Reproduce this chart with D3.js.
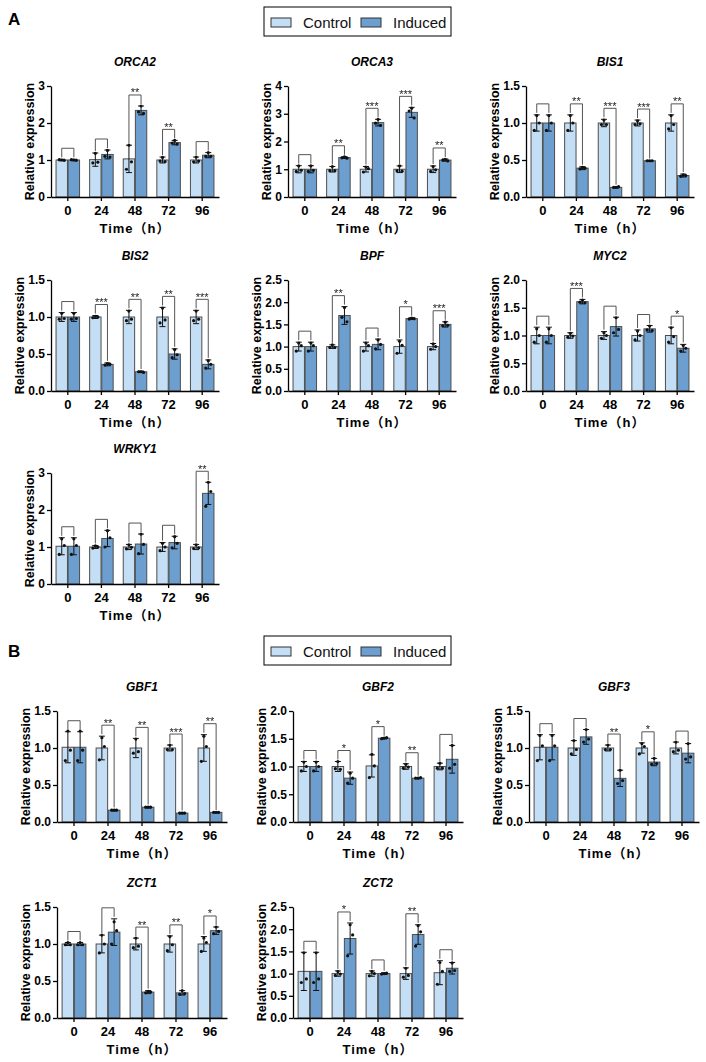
<!DOCTYPE html>
<html>
<head>
<meta charset="utf-8">
<script src="https://cdn.jsdelivr.net/npm/d3@7"></script>
<style>
body { margin: 0; background: #fff; }
svg { display: block; font-family: "Liberation Sans", Arial, sans-serif; }
</style>
</head>
<body>
<svg id="fig" width="706" height="1062"></svg>
<script>
const times = ['0', '24', '48', '72', '96'];
const seriesNames = ['Control', 'Induced'];

const ticks3 = [0, 1, 2, 3];
const ticks4 = [0, 1, 2, 3, 4];
const ticks15 = [0, 0.5, 1.0, 1.5];
const ticks20 = [0, 0.5, 1.0, 1.5, 2.0];
const ticks25 = [0, 0.5, 1.0, 1.5, 2.0, 2.5];

// ORCA2
const orca2Ctrl = [1.0, 1.01, 1.03, 1.0, 1.0];
const orca2CtrlSd = [0.02, 0.18, 0.37, 0.08, 0.08];
const orca2CtrlPts = [[1.0, 1.01, 0.99], [1.18, 0.92, 0.94], [1.4, 0.75, 0.95], [1.07, 0.97, 0.96], [1.08, 0.95, 0.97]];
const orca2Ind = [1.0, 1.15, 2.34, 1.47, 1.13];
const orca2IndSd = [0.02, 0.12, 0.12, 0.06, 0.07];
const orca2IndPts = [[1.0, 1.01, 0.99], [1.26, 1.1, 1.08], [2.46, 2.3, 2.26], [1.53, 1.46, 1.43], [1.2, 1.1, 1.1]];
const orca2Sig = ['', '', '**', '**', ''];

// ORCA3
const orca3Ctrl = [1, 1, 1, 1, 1];
const orca3CtrlSd = [0.13, 0.1, 0.1, 0.12, 0.12];
const orca3CtrlPts = [[1.12, 0.92, 0.96], [1.1, 0.95, 0.95], [1.08, 0.9, 1.02], [1.12, 0.95, 0.93], [1.1, 0.92, 0.98]];
const orca3Ind = [1.0, 1.42, 2.68, 3.05, 1.33];
const orca3IndSd = [0.13, 0.03, 0.12, 0.18, 0.04];
const orca3IndPts = [[1.12, 0.92, 0.96], [1.45, 1.41, 1.4], [2.8, 2.66, 2.58], [3.2, 3.1, 2.85], [1.36, 1.33, 1.3]];
const orca3Sig = ['', '**', '***', '***', '**'];

// BIS1
const bis1Ctrl = [1, 1, 1, 1, 1];
const bis1CtrlSd = [0.11, 0.11, 0.05, 0.04, 0.11];
const bis1CtrlPts = [[1.1, 0.9, 1.0], [1.1, 0.9, 1.0], [1.04, 0.98, 0.98], [1.03, 0.98, 0.99], [1.1, 0.92, 0.98]];
const bis1Ind = [1.0, 0.39, 0.13, 0.49, 0.29];
const bis1IndSd = [0.11, 0.02, 0.01, 0.005, 0.02];
const bis1IndPts = [[1.1, 0.9, 1.0], [0.4, 0.38, 0.39], [0.13, 0.13, 0.14], [0.49, 0.49, 0.49], [0.3, 0.28, 0.29]];
const bis1Sig = ['', '**', '***', '***', '**'];

// BIS2
const bis2Ctrl = [1, 1, 1, 1, 1];
const bis2CtrlSd = [0.06, 0.02, 0.09, 0.13, 0.09];
const bis2CtrlPts = [[1.05, 0.97, 0.98], [1.01, 0.99, 1.0], [1.08, 0.95, 0.97], [1.12, 0.92, 0.96], [1.08, 0.95, 0.97]];
const bis2Ind = [1.0, 0.36, 0.26, 0.5, 0.36];
const bis2IndSd = [0.06, 0.02, 0.01, 0.07, 0.06];
const bis2IndPts = [[1.05, 0.97, 0.98], [0.37, 0.35, 0.36], [0.26, 0.26, 0.25], [0.56, 0.45, 0.49], [0.41, 0.31, 0.36]];
const bis2Sig = ['', '***', '**', '**', '***'];

// BPF
const bpfCtrl = [1, 1, 1, 1, 1];
const bpfCtrlSd = [0.1, 0.04, 0.1, 0.15, 0.07];
const bpfCtrlPts = [[1.08, 0.9, 1.02], [1.04, 0.98, 0.98], [1.08, 0.9, 1.02], [1.12, 0.85, 1.03], [1.06, 0.94, 1.0]];
const bpfInd = [1.0, 1.7, 1.05, 1.63, 1.5];
const bpfIndSd = [0.1, 0.2, 0.12, 0.02, 0.06];
const bpfIndPts = [[1.08, 0.9, 1.02], [1.88, 1.66, 1.56], [1.15, 0.95, 1.05], [1.64, 1.62, 1.63], [1.55, 1.47, 1.48]];
const bpfSig = ['', '**', '', '*', '***'];

// MYC2
const myc2Ctrl = [1, 1, 1, 1, 1];
const myc2CtrlSd = [0.15, 0.05, 0.07, 0.1, 0.15];
const myc2CtrlPts = [[1.12, 0.88, 1.0], [1.04, 0.97, 0.99], [1.05, 0.95, 1.0], [1.08, 0.92, 1.0], [1.14, 0.88, 0.98]];
const myc2Ind = [1.0, 1.61, 1.16, 1.12, 0.77];
const myc2IndSd = [0.15, 0.04, 0.17, 0.06, 0.07];
const myc2IndPts = [[1.12, 0.88, 1.0], [1.64, 1.6, 1.59], [1.32, 1.05, 1.11], [1.17, 1.1, 1.09], [0.82, 0.72, 0.77]];
const myc2Sig = ['', '***', '', '', '*'];

// WRKY1
const wrky1Ctrl = [1.02, 1.0, 1.0, 1.0, 1.0];
const wrky1CtrlSd = [0.23, 0.04, 0.07, 0.12, 0.07];
const wrky1CtrlPts = [[1.22, 0.8, 1.04], [1.03, 0.97, 1.0], [1.06, 0.95, 0.99], [1.1, 0.9, 1.0], [1.06, 0.96, 0.98]];
const wrky1Ind = [1.02, 1.23, 1.08, 1.12, 2.45];
const wrky1IndSd = [0.23, 0.22, 0.27, 0.17, 0.3];
const wrky1IndPts = [[1.22, 0.8, 1.04], [1.44, 1.0, 1.25], [1.35, 0.82, 1.07], [1.28, 0.98, 1.1], [2.75, 2.1, 2.5]];
const wrky1Sig = ['', '', '', '', '**'];

// GBF1
const gbf1Ctrl = [1.01, 1.0, 1.0, 1.0, 1.0];
const gbf1CtrlSd = [0.21, 0.16, 0.13, 0.04, 0.18];
const gbf1CtrlPts = [[1.23, 0.83, 0.97], [1.14, 0.84, 1.02], [1.12, 0.93, 0.95], [1.04, 0.98, 0.98], [1.16, 0.82, 1.02]];
const gbf1Ind = [1.01, 0.16, 0.2, 0.12, 0.13];
const gbf1IndSd = [0.21, 0.01, 0.01, 0.01, 0.005];
const gbf1IndPts = [[1.23, 0.83, 0.97], [0.16, 0.16, 0.16], [0.2, 0.2, 0.2], [0.12, 0.12, 0.12], [0.13, 0.13, 0.13]];
const gbf1Sig = ['', '**', '**', '***', '**'];

// GBF2
const gbf2Ctrl = [1.0, 1.0, 1.01, 1.0, 1.0];
const gbf2CtrlSd = [0.09, 0.09, 0.2, 0.05, 0.06];
const gbf2CtrlPts = [[1.08, 0.92, 1.0], [1.09, 0.96, 0.95], [1.22, 0.8, 1.01], [1.04, 0.97, 0.99], [1.06, 0.97, 0.97]];
const gbf2Ind = [1.0, 0.79, 1.51, 0.79, 1.13];
const gbf2IndSd = [0.09, 0.11, 0.01, 0.01, 0.25];
const gbf2IndPts = [[1.08, 0.92, 1.0], [0.88, 0.7, 0.79], [1.51, 1.5, 1.52], [0.79, 0.79, 0.8], [1.38, 0.97, 1.04]];
const gbf2Sig = ['', '*', '*', '**', ''];

// GBF3
const gbf3Ctrl = [1.01, 1.0, 1.0, 1.0, 1.0];
const gbf3CtrlSd = [0.17, 0.1, 0.04, 0.07, 0.08];
const gbf3CtrlPts = [[1.17, 0.83, 1.03], [1.1, 0.92, 0.98], [1.04, 0.98, 0.98], [1.06, 0.92, 1.02], [1.08, 0.95, 0.97]];
const gbf3Ind = [1.01, 1.15, 0.59, 0.81, 0.93];
const gbf3IndSd = [0.17, 0.1, 0.11, 0.05, 0.13];
const gbf3IndPts = [[1.17, 0.83, 1.03], [1.25, 1.08, 1.12], [0.7, 0.52, 0.56], [0.86, 0.78, 0.79], [1.06, 0.85, 0.88]];
const gbf3Sig = ['', '', '**', '*', ''];

// ZCT1
const zct1Ctrl = [1, 1, 1, 1, 1];
const zct1CtrlSd = [0.02, 0.12, 0.08, 0.11, 0.1];
const zct1CtrlPts = [[1.02, 0.99, 0.99], [1.12, 0.88, 1.0], [1.08, 0.95, 0.97], [1.1, 0.91, 0.99], [1.08, 0.9, 1.02]];
const zct1Ind = [1.0, 1.16, 0.35, 0.34, 1.18];
const zct1IndSd = [0.02, 0.18, 0.02, 0.03, 0.05];
const zct1IndPts = [[1.02, 0.99, 0.99], [1.3, 1.0, 1.18], [0.36, 0.34, 0.35], [0.37, 0.32, 0.33], [1.23, 1.14, 1.17]];
const zct1Sig = ['', '', '**', '**', '*'];

// ZCT2
const zct2Ctrl = [1.05, 1.0, 1.0, 1.0, 1.02];
const zct2CtrlSd = [0.43, 0.06, 0.06, 0.13, 0.27];
const zct2CtrlPts = [[1.47, 0.8, 0.88], [1.05, 0.96, 0.99], [1.05, 0.95, 1.0], [1.12, 0.92, 0.96], [1.25, 0.76, 1.05]];
const zct2Ind = [1.05, 1.79, 1.0, 1.88, 1.12];
const zct2IndSd = [0.43, 0.35, 0.02, 0.22, 0.13];
const zct2IndPts = [[1.47, 0.8, 0.88], [2.1, 1.4, 1.87], [1.0, 0.99, 1.01], [2.08, 1.62, 1.94], [1.24, 1.05, 1.07]];
const zct2Sig = ['', '*', '', '**', ''];

const colors = { Control: '#c4dff5', Induced: '#6c9fcf' };

function gene(name, ticks, ctrl, ctrlSd, ctrlPts, ind, indSd, indPts, sig) {
    return { name, ticks, sig, series: [
        { key: 'Control', mean: ctrl, sd: ctrlSd, pts: ctrlPts },
        { key: 'Induced', mean: ind, sd: indSd, pts: indPts }
    ] };
}

const panelA = [
    gene('ORCA2', ticks3, orca2Ctrl, orca2CtrlSd, orca2CtrlPts, orca2Ind, orca2IndSd, orca2IndPts, orca2Sig),
    gene('ORCA3', ticks4, orca3Ctrl, orca3CtrlSd, orca3CtrlPts, orca3Ind, orca3IndSd, orca3IndPts, orca3Sig),
    gene('BIS1', ticks15, bis1Ctrl, bis1CtrlSd, bis1CtrlPts, bis1Ind, bis1IndSd, bis1IndPts, bis1Sig),
    gene('BIS2', ticks15, bis2Ctrl, bis2CtrlSd, bis2CtrlPts, bis2Ind, bis2IndSd, bis2IndPts, bis2Sig),
    gene('BPF', ticks25, bpfCtrl, bpfCtrlSd, bpfCtrlPts, bpfInd, bpfIndSd, bpfIndPts, bpfSig),
    gene('MYC2', ticks20, myc2Ctrl, myc2CtrlSd, myc2CtrlPts, myc2Ind, myc2IndSd, myc2IndPts, myc2Sig),
    gene('WRKY1', ticks3, wrky1Ctrl, wrky1CtrlSd, wrky1CtrlPts, wrky1Ind, wrky1IndSd, wrky1IndPts, wrky1Sig)
];
const panelB = [
    gene('GBF1', ticks15, gbf1Ctrl, gbf1CtrlSd, gbf1CtrlPts, gbf1Ind, gbf1IndSd, gbf1IndPts, gbf1Sig),
    gene('GBF2', ticks20, gbf2Ctrl, gbf2CtrlSd, gbf2CtrlPts, gbf2Ind, gbf2IndSd, gbf2IndPts, gbf2Sig),
    gene('GBF3', ticks15, gbf3Ctrl, gbf3CtrlSd, gbf3CtrlPts, gbf3Ind, gbf3IndSd, gbf3IndPts, gbf3Sig),
    gene('ZCT1', ticks15, zct1Ctrl, zct1CtrlSd, zct1CtrlPts, zct1Ind, zct1IndSd, zct1IndPts, zct1Sig),
    gene('ZCT2', ticks25, zct2Ctrl, zct2CtrlSd, zct2CtrlPts, zct2Ind, zct2IndSd, zct2IndPts, zct2Sig)
];

const svg = d3.select('#fig');
svg.append('rect').attr('width', 706).attr('height', 1062).attr('fill', '#fff');

// desaturate the tiny star glyphs so they stay grey/black
svg.append('defs').append('filter').attr('id', 'mono')
    .append('feColorMatrix').attr('type', 'saturate').attr('values', 0);

function drawLegend(top) {
    const g = svg.append('g').attr('transform', `translate(264,${top})`);
    g.append('rect').attr('width', 187).attr('height', 29)
        .attr('fill', 'none').attr('stroke', '#000').attr('stroke-width', 1);
    const items = [{ key: 'Control', sx: 7, tx: 39 }, { key: 'Induced', sx: 97, tx: 129 }];
    items.forEach(it => {
        g.append('rect').attr('x', it.sx).attr('y', 11).attr('width', 20).attr('height', 9)
            .attr('fill', colors[it.key]).attr('stroke', '#333').attr('stroke-width', 1);
        g.append('text').attr('x', it.tx).attr('y', 21).attr('font-size', 15)
            .attr('fill', '#111').text(it.key);
    });
}

function drawChart(c, x0, top, width, height) {
    const g = svg.append('g');
    const bottom = top + height;
    const x = d3.scaleBand().domain(times).range([x0, x0 + width]).paddingInner(0.3).paddingOuter(0.15);
    const xs = d3.scaleBand().domain(seriesNames).range([0, x.bandwidth()]).paddingInner(0.06);
    const yMax = c.ticks[c.ticks.length - 1];
    const y = d3.scaleLinear().domain([0, yMax]).range([bottom, top]);
    const fmt = c.ticks[1] < 1 ? d3.format('.1f') : d3.format('d');
    const barCx = (s, i) => x(times[i]) + xs(s.key) + xs.bandwidth() / 2;

    // bars
    c.series.forEach(s => {
        g.append('g').selectAll('rect')
            .data(s.mean)
            .enter()
            .append('rect')
            .attr('x', (d, i) => x(times[i]) + xs(s.key))
            .attr('y', d => y(d))
            .attr('width', xs.bandwidth())
            .attr('height', d => bottom - y(d))
            .attr('fill', colors[s.key])
            .attr('stroke', '#4d4d4d')
            .attr('stroke-width', 1);
    });

    // error bars and replicate points
    c.series.forEach(s => {
        s.mean.forEach((m, i) => {
            const cx = barCx(s, i);
            const hi = y(m + s.sd[i]), lo = y(m - s.sd[i]);
            g.append('line').attr('x1', cx).attr('x2', cx).attr('y1', hi).attr('y2', lo)
                .attr('stroke', '#111').attr('stroke-width', 1);
            [hi, lo].forEach(yy => {
                g.append('line').attr('x1', cx - 3).attr('x2', cx + 3).attr('y1', yy).attr('y2', yy)
                    .attr('stroke', '#111').attr('stroke-width', 1);
            });
            const offs = [0, -2.5, 2.5];
            s.pts[i].forEach((p, k) => {
                g.append('circle').attr('cx', cx + offs[k]).attr('cy', y(p)).attr('r', 1.6).attr('fill', '#111');
            });
        });
    });

    // significance brackets
    const sigG = g.append('g').attr('filter', 'url(#mono)');
    times.forEach((t, i) => {
        const tops = c.series.map(s => y(s.mean[i] + s.sd[i]));
        const lineY = Math.min(...tops) - 11;
        const xl = barCx(c.series[0], i), xr = barCx(c.series[1], i);
        sigG.append('path')
            .attr('d', `M${xl},${tops[0] - 2}V${lineY}H${xr}V${tops[1] - 2}`)
            .attr('fill', 'none').attr('stroke', '#555').attr('stroke-width', 1);
        if (c.sig[i]) {
            sigG.append('text').attr('x', (xl + xr) / 2).attr('y', lineY + 1.5)
                .attr('text-anchor', 'middle').attr('font-size', 11).attr('fill', '#222')
                .text(c.sig[i]);
        }
    });

    // axes
    const yAxis = g.append('g').attr('transform', `translate(${x0},0)`)
        .call(d3.axisLeft(y).tickValues(c.ticks).tickFormat(fmt).tickSize(4).tickSizeOuter(0).tickPadding(2));
    const xAxis = g.append('g').attr('transform', `translate(0,${bottom})`)
        .call(d3.axisBottom(x).tickSize(4).tickSizeOuter(0).tickPadding(5));
    [yAxis, xAxis].forEach(a => {
        a.selectAll('path, line').attr('stroke', '#000').attr('stroke-width', 1.3);
        a.selectAll('text').attr('fill', '#000').attr('font-weight', 'bold')
            .attr('font-family', '"Liberation Sans", Arial, sans-serif');
    });
    yAxis.selectAll('text').attr('font-size', 12);
    xAxis.selectAll('text').attr('font-size', 13);

    // widest tick label decides where the axis title goes
    let maxW = 0;
    yAxis.selectAll('text').each(function () { maxW = Math.max(maxW, this.getComputedTextLength()); });
    const labelCx = x0 - 6 - maxW - 9;
    g.append('text')
        .attr('transform', `translate(${labelCx + 4.5},${top + height / 2}) rotate(-90)`)
        .attr('text-anchor', 'middle').attr('font-size', 12.5).attr('font-weight', 'bold')
        .attr('fill', '#000').text('Relative expression');

    g.append('text').attr('x', x0 + width / 2).attr('y', top - 20)
        .attr('text-anchor', 'middle').attr('font-size', 12).attr('font-weight', 'bold')
        .attr('font-style', 'italic').attr('fill', '#000').text(c.name);

    g.append('text').attr('x', x0 + width / 2).attr('y', bottom + 36)
        .attr('text-anchor', 'middle').attr('font-size', 13).attr('font-weight', 'bold')
        .attr('letter-spacing', 1)
        .attr('font-family', '"Liberation Sans", "Noto Sans CJK SC", sans-serif')
        .attr('fill', '#000').text('Time（h）');
}

// panel A
svg.append('text').attr('x', 8).attr('y', 25).attr('font-size', 17).attr('font-weight', 'bold').text('A');
drawLegend(7);
const colsA = [51, 288, 526], rowsA = [86, 280, 473];
panelA.forEach((c, k) => drawChart(c, colsA[k % 3], rowsA[Math.floor(k / 3)], 168, 111));

// panel B
svg.append('text').attr('x', 8).attr('y', 657).attr('font-size', 17).attr('font-weight', 'bold').text('B');
drawLegend(636);
const colsB = [57, 293, 529], rowsB = [711, 907];
panelB.forEach((c, k) => drawChart(c, colsB[k % 3], rowsB[Math.floor(k / 3)], 170, 111));
</script>
</body>
</html>
